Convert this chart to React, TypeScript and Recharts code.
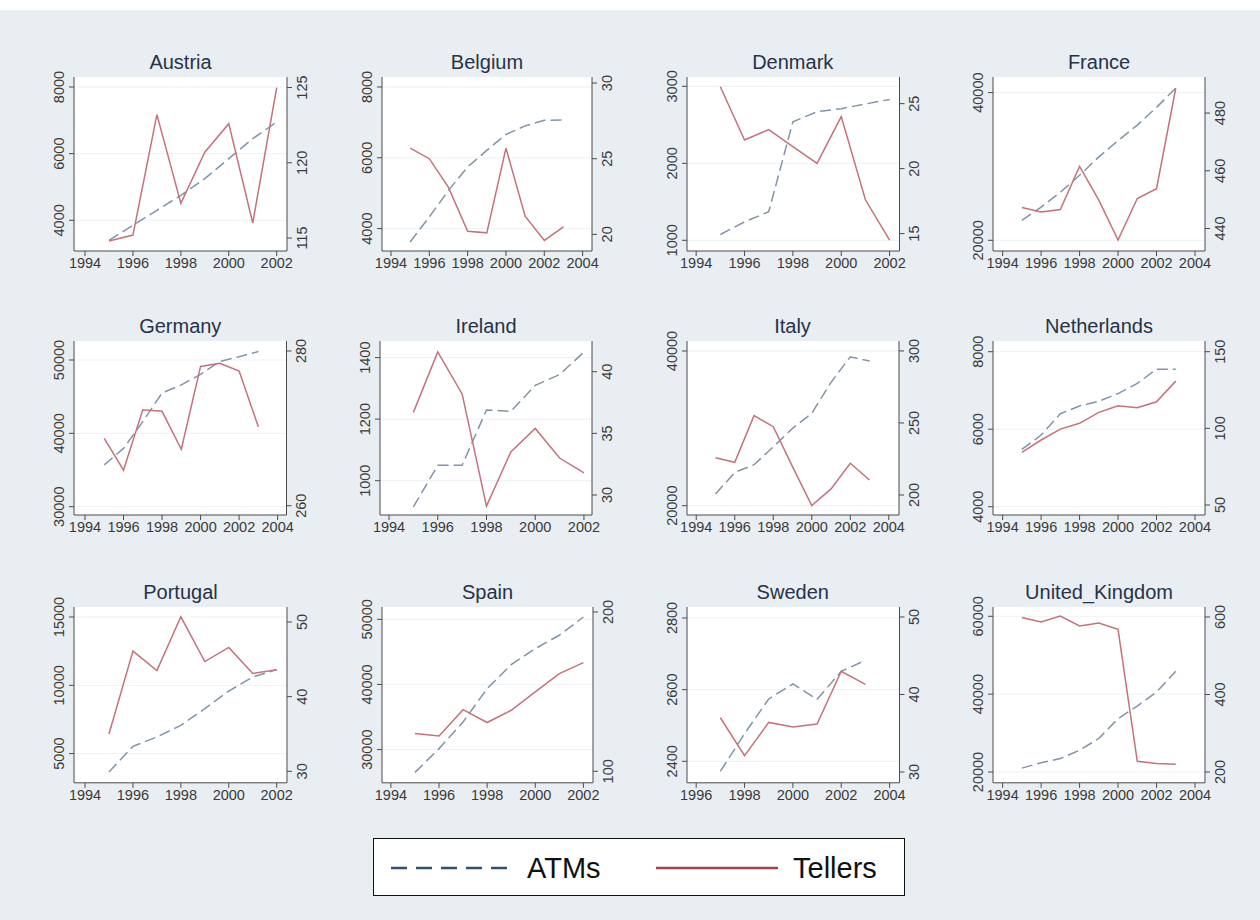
import React from 'react';
import { LineChart, Line, XAxis, YAxis, CartesianGrid } from 'recharts';

// ---------- DATA ----------
const austriaYears = [1995, 1996, 1997, 1998, 1999, 2000, 2001, 2002];
const austriaATMs = [3400, 3850, 4300, 4750, 5250, 5850, 6450, 6950];
const austriaTellers = [114.8, 115.2, 123.2, 117.3, 120.7, 122.6, 116.0, 125.0];

const belgiumYears = [1995, 1996, 1997, 1998, 1999, 2000, 2001, 2002, 2003];
const belgiumATMs = [3620, 4330, 5080, 5740, 6210, 6660, 6900, 7060, 7070];
const belgiumTellers = [25.7, 25.0, 23.1, 20.2, 20.1, 25.7, 21.2, 19.6, 20.5];

const denmarkYears = [1995, 1996, 1997, 1998, 1999, 2000, 2001, 2002];
const denmarkATMs = [1075, 1240, 1370, 2540, 2670, 2710, 2770, 2830];
const denmarkTellers = [26.3, 22.2, 23.0, 21.7, 20.4, 24.0, 17.6, 14.5];

const franceYears = [1995, 1996, 1997, 1998, 1999, 2000, 2001, 2002, 2003];
const franceATMs = [22700, 24500, 26500, 28800, 31300, 33500, 35600, 38000, 40600];
const franceTellers = [447.3, 445.7, 446.6, 461.5, 449.8, 436.0, 450.4, 453.8, 488.6];

const germanyYears = [1995, 1996, 1997, 1998, 1999, 2000, 2001, 2002, 2003];
const germanyATMs = [35700, 37950, 41600, 45500, 46600, 48050, 49800, 50450, 51150];
const germanyTellers = [268.7, 264.6, 272.4, 272.2, 267.3, 278.0, 278.4, 277.4, 270.2];

const irelandYears = [1995, 1996, 1997, 1998, 1999, 2000, 2001, 2002];
const irelandATMs = [915, 1050, 1050, 1230, 1225, 1310, 1345, 1418];
const irelandTellers = [36.7, 41.6, 38.2, 29.1, 33.5, 35.4, 33.0, 31.8];

const italyYears = [1995, 1996, 1997, 1998, 1999, 2000, 2001, 2002, 2003];
const italyATMs = [21500, 24300, 25300, 27600, 30000, 31950, 35950, 39250, 38700];
const italyTellers = [225.9, 222.7, 255.1, 247.4, 219.7, 192.6, 204.2, 222.0, 210.4];

const netherlandsYears = [1995, 1996, 1997, 1998, 1999, 2000, 2001, 2002, 2003];
const netherlandsATMs = [5480, 5850, 6400, 6600, 6720, 6920, 7180, 7550, 7550];
const netherlandsTellers = [84.4, 92.4, 99.5, 103.3, 110.4, 114.7, 113.4, 117.3, 130.8];

const portugalYears = [1995, 1996, 1997, 1998, 1999, 2000, 2001, 2002];
const portugalATMs = [3650, 5530, 6220, 7070, 8290, 9580, 10600, 11150];
const portugalTellers = [35.0, 46.1, 43.5, 50.7, 44.7, 46.6, 43.1, 43.6];

const spainYears = [1995, 1996, 1997, 1998, 1999, 2000, 2001, 2002];
const spainATMs = [26500, 30150, 34250, 39350, 43050, 45500, 47550, 50350];
const spainTellers = [123.7, 122.2, 138.7, 130.6, 138.3, 149.8, 161.3, 168.2];

const swedenYears = [1997, 1998, 1999, 2000, 2001, 2002, 2003];
const swedenATMs = [2372, 2477, 2574, 2616, 2573, 2651, 2682];
const swedenTellers = [37.0, 32.1, 36.4, 35.8, 36.2, 43.0, 41.3];

const ukYears = [1995, 1996, 1997, 1998, 1999, 2000, 2001, 2002, 2003];
const ukATMs = [21000, 22400, 23450, 25600, 28600, 33700, 36950, 40550, 45900];
const ukTellers = [598.5, 587.0, 602.6, 576.8, 584.5, 568.3, 227.6, 221.7, 219.9];

// tick labels
const xTicks9402 = [1994, 1996, 1998, 2000, 2002];
const xTicks9404 = [1994, 1996, 1998, 2000, 2002, 2004];
const xTicks9604 = [1996, 1998, 2000, 2002, 2004];

const austriaLeftTicks = [4000, 6000, 8000];
const austriaRightTicks = [115, 120, 125];
const belgiumLeftTicks = [4000, 6000, 8000];
const belgiumRightTicks = [20, 25, 30];
const denmarkLeftTicks = [1000, 2000, 3000];
const denmarkRightTicks = [15, 20, 25];
const franceLeftTicks = [20000, 40000];
const franceRightTicks = [440, 460, 480];
const germanyLeftTicks = [30000, 40000, 50000];
const germanyRightTicks = [260, 280];
const irelandLeftTicks = [1000, 1200, 1400];
const irelandRightTicks = [30, 35, 40];
const italyLeftTicks = [20000, 40000];
const italyRightTicks = [200, 250, 300];
const netherlandsLeftTicks = [4000, 6000, 8000];
const netherlandsRightTicks = [50, 100, 150];
const portugalLeftTicks = [5000, 10000, 15000];
const portugalRightTicks = [30, 40, 50];
const spainLeftTicks = [30000, 40000, 50000];
const spainRightTicks = [100, 200];
const swedenLeftTicks = [2400, 2600, 2800];
const swedenRightTicks = [30, 40, 50];
const ukLeftTicks = [20000, 40000, 60000];
const ukRightTicks = [200, 400, 600];

// ---------- STYLE / LAYOUT ----------
const FONT = '"Liberation Sans", Arial, Helvetica, sans-serif';
const TICK_COLOR = '#3a3a3a';
const AXIS_COLOR = '#4a4a4a';
const ATM_COLOR = '#8194a8';
const TELLER_COLOR = '#c4727b';
const BG = '#e8eef1';
const YW = 40;
const XH = 30;
const MT = 30;
const TICK_FS = 14.5;

type Panel = {
  name: string;
  years: number[];
  atms: number[];
  tellers: number[];
  xTicks: number[];
  leftTicks: number[];
  rightTicks: number[];
  xDomain: [number, number];
  leftDomain: [number, number];
  rightDomain: [number, number];
  box: [number, number, number, number];
};

const panels: Panel[] = [
  { name: 'Austria', years: austriaYears, atms: austriaATMs, tellers: austriaTellers, xTicks: xTicks9402, leftTicks: austriaLeftTicks, rightTicks: austriaRightTicks, xDomain: [1993.54, 2002.43], leftDomain: [3079, 8300], rightDomain: [114.14, 125.7], box: [74, 76.7, 287, 250.7] },
  { name: 'Belgium', years: belgiumYears, atms: belgiumATMs, tellers: belgiumTellers, xTicks: xTicks9404, leftTicks: belgiumLeftTicks, rightTicks: belgiumRightTicks, xDomain: [1993.53, 2004.49], leftDomain: [3367, 8282], rightDomain: [18.9, 30.4], box: [382, 76.7, 592, 250.7] },
  { name: 'Denmark', years: denmarkYears, atms: denmarkATMs, tellers: denmarkTellers, xTicks: xTicks9402, leftTicks: denmarkLeftTicks, rightTicks: denmarkRightTicks, xDomain: [1993.62, 2002.41], leftDomain: [861, 3121], rightDomain: [13.66, 27.05], box: [686.5, 76.7, 899, 250.7] },
  { name: 'France', years: franceYears, atms: franceATMs, tellers: franceTellers, xTicks: xTicks9404, leftTicks: franceLeftTicks, rightTicks: franceRightTicks, xDomain: [1993.5, 2004.52], leftDomain: [18551, 42112], rightDomain: [432.2, 492.5], box: [993, 76.7, 1205, 250.7] },
  { name: 'Germany', years: germanyYears, atms: germanyATMs, tellers: germanyTellers, xTicks: xTicks9404, leftTicks: germanyLeftTicks, rightTicks: germanyRightTicks, xDomain: [1993.43, 2004.46], leftDomain: [28869, 52590], rightDomain: [258.8, 281.29], box: [74, 341, 286.5, 515] },
  { name: 'Ireland', years: irelandYears, atms: irelandATMs, tellers: irelandTellers, xTicks: xTicks9402, leftTicks: irelandLeftTicks, rightTicks: irelandRightTicks, xDomain: [1993.63, 2002.33], leftDomain: [888.5, 1454], rightDomain: [28.38, 42.49], box: [380, 341, 592, 515] },
  { name: 'Italy', years: italyYears, atms: italyATMs, tellers: italyTellers, xTicks: xTicks9404, leftTicks: italyLeftTicks, rightTicks: italyRightTicks, xDomain: [1993.52, 2004.53], leftDomain: [18797, 41293], rightDomain: [186.1, 306.9], box: [686.5, 341, 898.5, 515] },
  { name: 'Netherlands', years: netherlandsYears, atms: netherlandsATMs, tellers: netherlandsTellers, xTicks: xTicks9404, leftTicks: netherlandsLeftTicks, rightTicks: netherlandsRightTicks, xDomain: [1993.5, 2004.52], leftDomain: [3786, 8276], rightDomain: [43.48, 156.98], box: [993, 341, 1205, 515] },
  { name: 'Portugal', years: portugalYears, atms: portugalATMs, tellers: portugalTellers, xTicks: xTicks9402, leftTicks: portugalLeftTicks, rightTicks: portugalRightTicks, xDomain: [1993.54, 2002.43], leftDomain: [2863, 15732], rightDomain: [28.46, 52.01], box: [74, 606.7, 287, 782.5] },
  { name: 'Spain', years: spainYears, atms: spainATMs, tellers: spainTellers, xTicks: xTicks9402, leftTicks: spainLeftTicks, rightTicks: spainRightTicks, xDomain: [1993.63, 2002.4], leftDomain: [24904, 51888], rightDomain: [92.78, 203.1], box: [382, 606.7, 593, 782.5] },
  { name: 'Sweden', years: swedenYears, atms: swedenATMs, tellers: swedenTellers, xTicks: xTicks9604, leftTicks: swedenLeftTicks, rightTicks: swedenRightTicks, xDomain: [1995.62, 2004.41], leftDomain: [2340, 2830.7], rightDomain: [28.61, 51.29], box: [686.5, 606.7, 899, 782.5] },
  { name: 'United_Kingdom', years: ukYears, atms: ukATMs, tellers: ukTellers, xTicks: xTicks9404, leftTicks: ukLeftTicks, rightTicks: ukRightTicks, xDomain: [1993.5, 2004.52], leftDomain: [17225, 62389], rightDomain: [172.1, 625.8], box: [993, 606.7, 1205, 782.5] },
];

const LeftTick = (props: any) => {
  const { x, y, payload } = props;
  const cx = x - 8;
  return (
    <text x={cx} y={y} transform={`rotate(-90 ${cx} ${y})`} textAnchor="middle" dominantBaseline="central" fontSize={TICK_FS} fill={TICK_COLOR} fontFamily={FONT}>
      {payload.value}
    </text>
  );
};

const RightTick = (props: any) => {
  const { x, y, payload } = props;
  const cx = x + 8;
  return (
    <text x={cx} y={y} transform={`rotate(-90 ${cx} ${y})`} textAnchor="middle" dominantBaseline="central" fontSize={TICK_FS} fill={TICK_COLOR} fontFamily={FONT}>
      {payload.value}
    </text>
  );
};

const PanelChart = ({ p }: { p: Panel }) => {
  const [x0, y0, x1, y1] = p.box;
  const pw = x1 - x0;
  const ph = y1 - y0;
  const data = p.years.map((yr, i) => ({ year: yr, atms: p.atms[i], tellers: p.tellers[i] }));
  const width = pw + 2 * YW;
  const height = ph + MT + XH;
  return (
    <>
      <div
        style={{
          position: 'absolute',
          left: x0 - 20,
          width: pw + 40,
          top: y0 - 27,
          height: 24,
          lineHeight: '24px',
          textAlign: 'center',
          fontFamily: FONT,
          fontSize: 20,
          color: '#26324a',
        }}
      >
        {p.name}
      </div>
      <div style={{ position: 'absolute', left: x0 - YW, top: y0 - MT, width, height }}>
        <LineChart width={width} height={height} data={data} margin={{ top: MT, right: 0, bottom: 0, left: 0 }}>
          <CartesianGrid yAxisId="left" vertical={false} horizontal={true} fill="#ffffff" stroke="#edf1f3" horizontalValues={p.leftTicks} />
          <XAxis
            dataKey="year"
            type="number"
            domain={p.xDomain}
            ticks={p.xTicks}
            interval={0}
            allowDataOverflow
            height={XH}
            tickSize={5}
            tickMargin={2}
            stroke={AXIS_COLOR}
            tick={{ fontSize: TICK_FS, fill: TICK_COLOR, fontFamily: FONT }}
          />
          <YAxis
            yAxisId="left"
            orientation="left"
            type="number"
            domain={p.leftDomain}
            ticks={p.leftTicks}
            interval={0}
            allowDataOverflow
            width={YW}
            tickSize={5}
            tickMargin={2}
            stroke={AXIS_COLOR}
            tick={<LeftTick />}
          />
          <YAxis
            yAxisId="right"
            orientation="right"
            type="number"
            domain={p.rightDomain}
            ticks={p.rightTicks}
            interval={0}
            allowDataOverflow
            width={YW}
            tickSize={5}
            tickMargin={2}
            stroke={AXIS_COLOR}
            tick={<RightTick />}
          />
          <Line yAxisId="left" type="linear" dataKey="atms" stroke={ATM_COLOR} strokeWidth={1.5} strokeDasharray="11 5" dot={false} isAnimationActive={false} />
          <Line yAxisId="right" type="linear" dataKey="tellers" stroke={TELLER_COLOR} strokeWidth={1.5} dot={false} isAnimationActive={false} />
        </LineChart>
      </div>
    </>
  );
};

const LegendBox = () => (
  <div
    style={{
      position: 'absolute',
      left: 373,
      top: 838,
      width: 532,
      height: 58,
      background: '#ffffff',
      border: '1px solid #111',
      boxSizing: 'border-box',
    }}
  >
    <svg width={530} height={56} style={{ display: 'block' }}>
      <line x1={17} y1={29} x2={139} y2={29} stroke="#34506f" strokeWidth={2.5} strokeDasharray="16 9" />
      <text x={153} y={29} dominantBaseline="central" fontSize={29} fontFamily={FONT} fill="#111">ATMs</text>
      <line x1={282} y1={29} x2={404} y2={29} stroke="#a3434e" strokeWidth={2.5} />
      <text x={419} y={29} dominantBaseline="central" fontSize={29} fontFamily={FONT} fill="#111">Tellers</text>
    </svg>
  </div>
);

export default function App() {
  return (
    <div style={{ position: 'absolute', left: 0, top: 0, width: 1260, height: 920, background: '#ffffff', overflow: 'hidden' }}>
      <div style={{ position: 'absolute', left: 0, top: 10, width: 1260, height: 910, background: BG }} />
      {panels.map((p) => (
        <PanelChart key={p.name} p={p} />
      ))}
      <LegendBox />
    </div>
  );
}
